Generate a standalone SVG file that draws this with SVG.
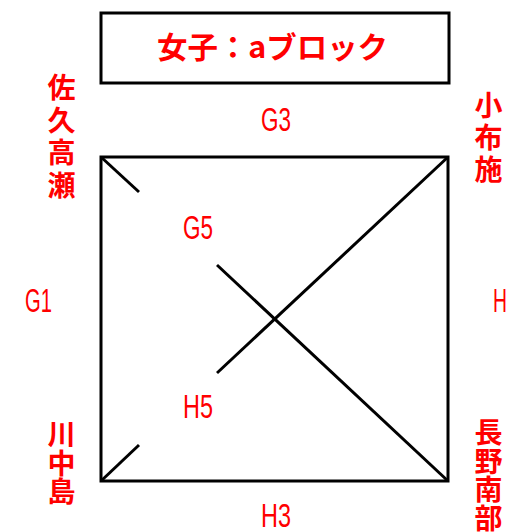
<svg xmlns="http://www.w3.org/2000/svg" width="510" height="532" viewBox="0 0 510 532">
<style>
.ln{stroke:#000;stroke-width:3;fill:none;stroke-linecap:butt}
.jp{font-family:"Noto Sans CJK JP","Noto Sans",sans-serif;font-weight:bold;fill:#ff0000;text-anchor:middle}
.lb{font-family:"Liberation Sans",Arial,sans-serif;fill:#ff0000;font-size:33px}
</style>
<rect width="510" height="532" fill="#fff"/>
<g id="title">
<rect class="ln" x="101" y="13" width="348" height="70"/>
<text class="jp" x="272.5" y="58" font-size="30" textLength="231" lengthAdjust="spacingAndGlyphs">女子：aブロック</text>
</g>
<g id="board">
<rect class="ln" x="101" y="157" width="347" height="324"/>
</g>
<g id="connectors">
<line class="ln" x1="101" y1="157" x2="139" y2="192"/>
<line class="ln" x1="217" y1="265" x2="448" y2="481"/>
<line class="ln" x1="448" y1="157" x2="217" y2="373"/>
<line class="ln" x1="101" y1="481" x2="139" y2="445"/>
</g>
<g id="saku">
<text class="jp" font-size="28" x="61.5" y="98">佐</text>
<text class="jp" font-size="28" x="61.5" y="130.5">久</text>
<text class="jp" font-size="28" x="61.5" y="163">高</text>
<text class="jp" font-size="28" x="61.5" y="195.5">瀬</text>
</g>
<g id="obuse">
<text class="jp" font-size="28" x="488.5" y="116">小</text>
<text class="jp" font-size="28" x="488.5" y="148">布</text>
<text class="jp" font-size="28" x="488.5" y="180">施</text>
</g>
<g id="kawanakajima">
<text class="jp" font-size="28" x="61.5" y="445">川</text>
<text class="jp" font-size="28" x="61.5" y="473.5">中</text>
<text class="jp" font-size="28" x="61.5" y="502">島</text>
</g>
<g id="naganominami">
<text class="jp" font-size="28" x="488.5" y="443">長</text>
<text class="jp" font-size="28" x="488.5" y="471.5">野</text>
<text class="jp" font-size="28" x="488.5" y="500">南</text>
<text class="jp" font-size="28" x="488.5" y="528.5">部</text>
</g>
<g id="labels">
<text class="lb" x="261" y="131" textLength="30" lengthAdjust="spacingAndGlyphs">G3</text>
<text class="lb" x="183" y="239" textLength="30" lengthAdjust="spacingAndGlyphs">G5</text>
<text class="lb" x="25" y="312" textLength="27" lengthAdjust="spacingAndGlyphs">G1</text>
<text class="lb" x="493" y="312" textLength="14" lengthAdjust="spacingAndGlyphs">H</text>
<text class="lb" x="183" y="418" textLength="30" lengthAdjust="spacingAndGlyphs">H5</text>
<text class="lb" x="261" y="527" textLength="30" lengthAdjust="spacingAndGlyphs">H3</text>
</g>
</svg>
